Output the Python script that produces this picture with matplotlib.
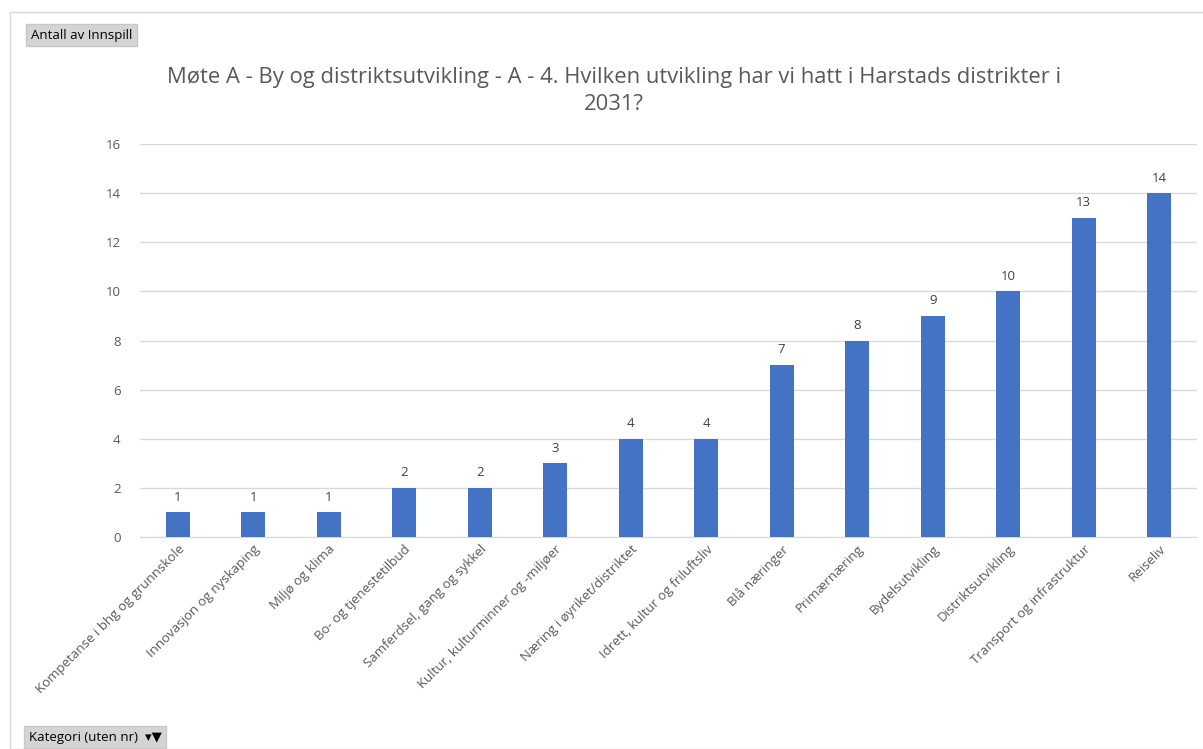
import matplotlib.pyplot as plt
from matplotlib.patches import Rectangle

categories = ["Kompetanse i bhg og grunnskole", "Innovasjon og nyskaping", "Miljø og klima",
              "Bo- og tjenestetilbud", "Samferdsel, gang og sykkel",
              "Kultur, kulturminner og -miljøer", "Næring i øyriket/distriktet",
              "Idrett, kultur og friluftsliv", "Blå næringer", "Primærnæring",
              "Bydelsutvikling", "Distriktsutvikling", "Transport og infrastruktur", "Reiseliv"]
values = [1, 1, 1, 2, 2, 3, 4, 4, 7, 8, 9, 10, 13, 14]
yticks = [0, 2, 4, 6, 8, 10, 12, 14, 16]

plt.rcParams['font.family'] = ['Open Sans', 'DejaVu Sans']

W, H = 1203, 749
fig = plt.figure(figsize=(W / 100, H / 100), dpi=100)

# outer frame
fig.add_artist(Rectangle((10 / W, 0), 1.2, 1 - 12 / H, transform=fig.transFigure,
                         fill=False, edgecolor="#d9d9d9", lw=1))

ax = fig.add_axes([140 / W, 1 - 537 / H, (1197 - 140) / W, (537 - 144) / H])
x = range(len(categories))
ax.bar(x, values, width=0.32, color="#4472c4", zorder=3)
for xi, v in zip(x, values):
    ax.text(xi, v + 0.35, str(v), ha="center", va="bottom", fontsize=9.5, color="#404040")

ax.set_xlim(-0.5, len(categories) - 0.5)
ax.set_ylim(0, 16)
ax.set_yticks(yticks)
ax.set_yticklabels([str(t) for t in yticks], fontsize=9.5, color="#595959")
ax.grid(axis="y", color="#d9d9d9", lw=1, zorder=0)
ax.tick_params(axis="y", length=0, pad=14)
ax.tick_params(axis="x", length=0, pad=4)
ax.set_xticks(list(x))
ax.set_xticklabels(categories, rotation=45, ha="right", rotation_mode="anchor",
                   fontsize=9.5, color="#595959")
for s in ["top", "right", "left"]:
    ax.spines[s].set_visible(False)
ax.spines["bottom"].set_color("#d9d9d9")

fig.text(614 / W, 1 - 77 / H,
         "Møte A - By og distriktsutvikling - A - 4. Hvilken utvikling har vi hatt i Harstads distrikter i",
         ha="center", va="center", fontsize=15.8, color="#595959")
fig.text(614 / W, 1 - 105 / H, "2031?", ha="center", va="center", fontsize=15.8, color="#595959")

# field buttons
fig.text(31 / W, 1 - 35 / H, "Antall av Innspill", ha="left", va="center", fontsize=9.5, color="#000000",
         bbox=dict(boxstyle="square,pad=0.35", facecolor="#d4d4d4", edgecolor="#c8c8c8"))
fig.text(29 / W, 1 - 737 / H, "Kategori (uten nr)  ▾▼", ha="left", va="center", fontsize=9.5, color="#000000",
         bbox=dict(boxstyle="square,pad=0.35", facecolor="#d4d4d4", edgecolor="#c8c8c8"))

fig.savefig("out.png", dpi=100)
